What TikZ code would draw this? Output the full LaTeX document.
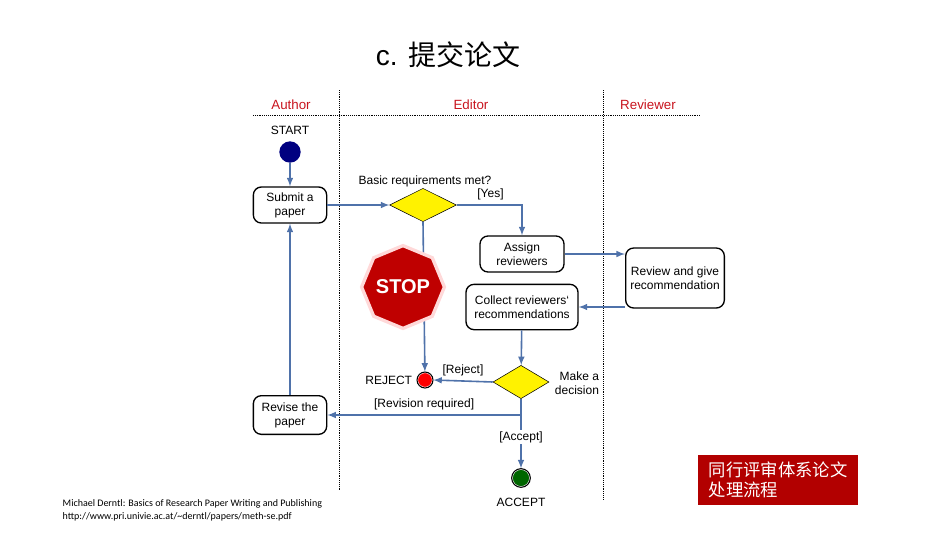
\documentclass[tikz,border=0pt]{standalone}
\usepackage{fontspec}
\setmainfont{Liberation Sans}
\newfontfamily\cjk{Noto Sans CJK SC}
\newfontfamily\srcfont{Carlito}
\usetikzlibrary{positioning, shapes.geometric, arrows}
\definecolor{flowblue}{RGB}{79,114,170}
\definecolor{lanered}{RGB}{200,20,30}
\tikzstyle{activity} = [rectangle, rounded corners=6pt, draw=black, line width=1pt, align=center, inner sep=1pt, font=\fontsize{9}{10.5}\selectfont]
\tikzstyle{decision} = [diamond, draw=black, fill=yellow, minimum width=50pt, minimum height=25pt, inner sep=0pt, aspect=2]
\tikzstyle{arrow} = [line width=1.2pt, draw=flowblue, ->, >=latex]
\tikzstyle{lane} = [densely dotted, thin]

\begin{document}
\begin{tikzpicture}[x=0.75pt, y=-0.75pt, font=\fontsize{9}{10.5}\selectfont]
		\useasboundingbox (0,0) rectangle (936,540);
		
		% Title and lanes
		\node (title) at (448,55) {\fontsize{21}{26}\selectfont c. {\cjk 提交论文}};
		\draw [lane] (253,115) -- (700,115);
		\draw [lane] (339,90) -- (339,490);
		\draw [lane] (603,90) -- (603,500);
		\node (author) [text=lanered, font=\fontsize{10}{12}\selectfont] at (291,105) {Author};
		\node (editor) [text=lanered, font=\fontsize{10}{12}\selectfont] at (471,105) {Editor};
		\node (reviewer) [text=lanered, font=\fontsize{10}{12}\selectfont] at (648,105) {Reviewer};
		
		% Nodes
		\node (startlbl) at (290,130) {START};
		\node (start) [circle, fill=blue!50!black, minimum size=16pt, inner sep=0pt] at (290,152) {};
		\node (submit) [activity, minimum width=55pt, minimum height=27pt] at (290,205) {Submit a\\paper};
		\node (basic) [decision] at (423,205) {};
		\node (basiclbl) at (425,181) {Basic requirements met?};
		\node (assign) [activity, minimum width=63pt, minimum height=27pt] at (522,254) {Assign\\reviewers};
		\node (review) [activity, minimum width=74pt, minimum height=45pt] at (675,278) {Review and give\\recommendation};
		\node (collect) [activity, minimum width=84pt, minimum height=34pt] at (522,307) {Collect reviewers`\\recommendations};
		\node (reject) [circle, fill=red, draw=white, double=black, double distance=0.8pt, minimum size=12pt, inner sep=0pt] at (425,380) {};
		\node (rejectlbl) [left=0pt of reject] {REJECT};
		\node (decide) [decision, minimum width=42pt] at (521,382) {};
		\node (decidelbl) [align=right] at (577,383) {Make a\\decision};
		\node (revise) [activity, minimum width=55pt, minimum height=29pt] at (290,415) {Revise the\\paper};
		\node (accept) [circle, fill=green!40!black, draw=white, double=black, double distance=0.8pt, minimum size=14pt, inner sep=0pt] at (521,478) {};
		\node (acceptlbl) at (521,502) {ACCEPT};
		\coordinate (split) at (521,415);
		
		% Arrows
		\draw [arrow] (start) -- (submit);
		\draw [arrow] (submit) -- (basic);
		\draw [arrow] (basic.east) -| node[pos=0.3, above, xshift=-4pt, text=black] {[Yes]} (assign);
		\draw [arrow] (basic.south) -- (reject);
		\draw [arrow] (assign.east) -- (review.west |- assign.east);
		\draw [arrow] (review.west |- collect.east) -- (collect.east);
		\draw [arrow] (collect) -- (decide);
		\draw [arrow] (decide.west) -- node[above, text=black] {[Reject]} (reject.east);
		\draw [arrow] (decide.south) -- node[pos=0.55, fill=white, inner sep=1pt, text=black] {[Accept]} (accept);
		\draw [arrow] (split) -- node[above, pos=0.5, text=black] {[Revision required]} (revise.east);
		\draw [arrow] (revise) -- (submit);
		
		% Stop sign sits over the reject line
		\node (stop) [regular polygon, regular polygon sides=8, shape border rotate=22.5, fill=red!75!black, draw=red!15, line width=2.5pt, minimum size=56pt, inner sep=0pt, text=white, font=\bfseries\fontsize{15}{17}\selectfont] at (403,287) {STOP};
		
		% Note and source
		\node (note) [fill=red!70!black, text=white, align=left, minimum width=120pt, minimum height=37pt, font=\cjk\fontsize{13}{15}\selectfont] at (778,480) {同行评审体系论文\\处理流程};
		\node (source) [anchor=west, align=left, font=\srcfont\fontsize{7.5}{10}\selectfont] at (58,510) {Michael Derntl: Basics of Research Paper Writing and Publishing\\http://www.pri.univie.ac.at/\~{}derntl/papers/meth-se.pdf};
		
	\end{tikzpicture}
\end{document}
